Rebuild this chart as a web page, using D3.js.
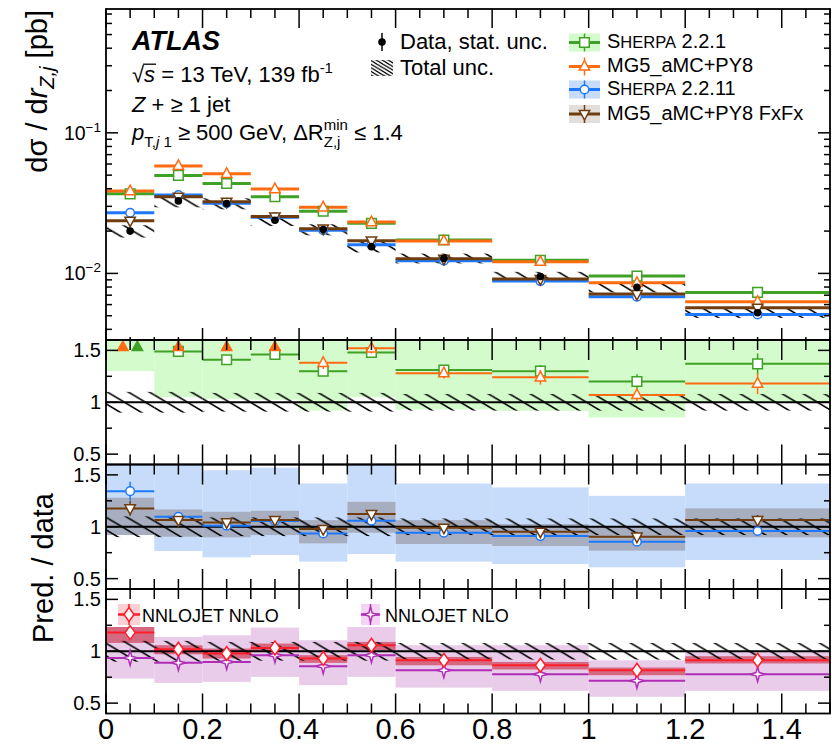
<!DOCTYPE html>
<html>
<head>
<meta charset="utf-8">
<script src="https://cdn.jsdelivr.net/npm/d3@7"></script>
<style>
body { margin: 0; background: #fff; }
svg { font-family: "Liberation Sans", Arial, sans-serif; }
</style>
</head>
<body>
<div id="chart"></div>
<script>
// bins in r_Zj
var edges = [0, 0.1, 0.2, 0.3, 0.4, 0.5, 0.6, 0.8, 1.0, 1.2, 1.5];
var xTickValues = [0, 0.2, 0.4, 0.6, 0.8, 1, 1.2, 1.4];
var xTickLabels = ["0", "0.2", "0.4", "0.6", "0.8", "1", "1.2", "1.4"];
var ratioTickValues = [0.5, 1, 1.5];
var ratioTickLabels = ["0.5", "1", "1.5"];

// top panel: d sigma / d r  [pb]
var data       = [0.0200, 0.0328, 0.0314, 0.0239, 0.0205, 0.0155, 0.0128, 0.0095, 0.00796, 0.00525];
var dataStat   = [0.04, 0.03, 0.03, 0.03, 0.03, 0.04, 0.03, 0.03, 0.03, 0.03];
var totUnc     = [0.10, 0.10, 0.09, 0.09, 0.09, 0.09, 0.08, 0.08, 0.08, 0.08];
var sherpa221  = [0.0368, 0.0498, 0.0436, 0.0351, 0.0277, 0.0227, 0.0173, 0.0124, 0.00957, 0.00733];
var mg5        = [0.0385, 0.0582, 0.0511, 0.0398, 0.0295, 0.0232, 0.0170, 0.0121, 0.00857, 0.00629];
var sherpa2211 = [0.0270, 0.0361, 0.0316, 0.0251, 0.0203, 0.0160, 0.0123, 0.00882, 0.00682, 0.00511];
var fxfx       = [0.0237, 0.0351, 0.0323, 0.0254, 0.0208, 0.0171, 0.0127, 0.00911, 0.00713, 0.00569];

// ratio panel 1
var r221    = [1.84, 1.49, 1.41, 1.46, 1.30, 1.48, 1.31, 1.30, 1.20, 1.37];
var r221Err = [0.05, 0.04, 0.04, 0.04, 0.05, 0.05, 0.05, 0.06, 0.07, 0.10];
var r221Lo  = [1.30, 1.05, 1.03, 1.025, 0.92, 1.05, 0.93, 0.917, 0.853, 1.0];
var r221Hi  = [2.40, 1.95, 1.80, 1.90, 1.70, 1.90, 1.70, 1.70, 1.65, 1.75];
var rMg5    = [1.92, 1.77, 1.63, 1.67, 1.38, 1.52, 1.28, 1.24, 1.07, 1.18];
var rMg5Err = [0.05, 0.04, 0.04, 0.04, 0.06, 0.05, 0.05, 0.07, 0.06, 0.10];

// ratio panel 2
var r2211    = [1.343, 1.096, 1.01, 1.055, 0.936, 1.058, 0.942, 0.91, 0.856, 0.959];
var r2211Err = [0.09, 0.03, 0.03, 0.03, 0.03, 0.04, 0.03, 0.03, 0.04, 0.05];
var r2211Lo  = [0.92, 0.766, 0.705, 0.728, 0.664, 0.737, 0.664, 0.641, 0.609, 0.68];
var r2211Hi  = [1.75, 1.65, 1.545, 1.57, 1.417, 1.65, 1.417, 1.379, 1.298, 1.417];
var rFx      = [1.177, 1.064, 1.042, 1.064, 0.978, 1.122, 0.99, 0.952, 0.904, 1.064];
var rFxErr   = [0.07, 0.03, 0.03, 0.03, 0.03, 0.04, 0.03, 0.03, 0.04, 0.05];
var rFxLo    = [0.92, 0.904, 0.898, 0.92, 0.84, 0.942, 0.834, 0.814, 0.77, 0.898];
var rFxHi    = [1.28, 1.167, 1.144, 1.154, 1.064, 1.24, 1.064, 1.026, 1.0, 1.177];

// ratio panel 3
var rNnlo   = [1.18, 1.019, 0.978, 1.032, 0.93, 1.058, 0.913, 0.865, 0.817, 0.913];
var rNnloLo = [1.08, 0.971, 0.93, 0.993, 0.888, 1.01, 0.865, 0.824, 0.769, 0.882];
var rNnloHi = [1.234, 1.058, 1.026, 1.074, 0.962, 1.09, 0.945, 0.897, 0.843, 0.952];
var rNlo    = [0.936, 0.888, 0.897, 0.962, 0.856, 0.962, 0.817, 0.779, 0.715, 0.779];
var rNloLo  = [0.737, 0.695, 0.705, 0.753, 0.673, 0.753, 0.65, 0.618, 0.561, 0.618];
var rNloHi  = [1.234, 1.138, 1.154, 1.228, 1.106, 1.234, 1.058, 1.058, 0.913, 0.993];
var rErr3   = [0.04, 0.02, 0.02, 0.02, 0.02, 0.03, 0.02, 0.02, 0.02, 0.03];

var green = "#3fa226", orange = "#ff6b12", blue = "#1e78ff", brown = "#6e3c0e";
var red = "#ff1e2a", magenta = "#b02eb6";
var greenBand = "#d3fbcb", blueBand = "#c6dcfa", fxBand = "rgba(95,70,60,0.30)";
var nloBand = "#e9cbea", nnloBand = "rgba(200,40,60,0.6)";

var svg = d3.select("#chart").append("svg")
    .attr("width", 832)
    .attr("height", 744);

var left = 106, right = 830;
var x = d3.scaleLinear().domain([0, 1.5]).range([left, right]);
var topY0 = 9, topY1 = 340;
var yTop = d3.scaleLog().domain([0.00336, 0.76]).range([topY1, topY0]);
var panels = [[340, 464.5], [464.5, 589], [589, 713.5]];
var yR = panels.map(function (p) {
    return d3.scaleLinear().domain([0.4, 1.6]).range([p[1], p[0]]);
});

var defs = svg.append("defs");
function addClip(id, y0, y1) {
    defs.append("clipPath").attr("id", id)
        .append("rect").attr("x", left).attr("y", y0)
        .attr("width", right - left).attr("height", y1 - y0);
}
addClip("clipTop", topY0, topY1);
panels.forEach(function (p, i) { addClip("clipR" + i, p[0], p[1]); });

// hatch for total uncertainty
function addHatch(id, w, h, sw) {
    var pat = defs.append("pattern").attr("id", id)
        .attr("patternUnits", "userSpaceOnUse")
        .attr("width", w).attr("height", h);
    pat.append("path")
        .attr("d", "M-2," + (-2 * h / w) + "L" + (w + 2) + "," + (h + 2 * h / w) +
            "M" + (w - 2) + "," + (-2 * h / w) + "L" + (w + 2) + "," + (2 * h / w) +
            "M-2," + (h - 2 * h / w) + "L2," + (h + 2 * h / w))
        .attr("stroke", "#000").attr("stroke-width", sw).attr("fill", "none");
}
addHatch("hatch", 21, 12.6, 1.5);
addHatch("hatchLeg", 6, 3.6, 1.3);

// marker shapes
var shapes = {
    square: "M-4.8,-4.8h9.6v9.6h-9.6z",
    triUp: "M0,-6L5.2,3.6L-5.2,3.6Z",
    triDown: "M0,6L5.2,-3.6L-5.2,-3.6Z",
    circle: d3.symbol().type(d3.symbolCircle).size(58)(),
    diamond: "M0,-7L5,0L0,7L-5,0Z",
    star: "M0,-7.5L1.6,-1.6L7.5,0L1.6,1.6L0,7.5L-1.6,1.6L-7.5,0L-1.6,-1.6Z"
};

function drawMarker(g, cx, cy, shape, color, filled) {
    g.append("path")
        .attr("d", shapes[shape])
        .attr("transform", "translate(" + cx + "," + cy + ")")
        .attr("fill", filled ? color : "#fff")
        .attr("stroke", color)
        .attr("stroke-width", 1.5);
}

function center(i) { return (edges[i] + edges[i + 1]) / 2; }

// ---------- top panel ----------
var gTop = svg.append("g").attr("clip-path", "url(#clipTop)");

for (var i = 0; i < data.length; i++) {
    gTop.append("rect")
        .attr("x", x(edges[i]))
        .attr("width", x(edges[i + 1]) - x(edges[i]))
        .attr("y", yTop(data[i] * (1 + totUnc[i])))
        .attr("height", yTop(data[i] * (1 - totUnc[i])) - yTop(data[i] * (1 + totUnc[i])))
        .attr("fill", "url(#hatch)");
}

var topModels = [
    { v: sherpa221, color: green, shape: "square" },
    { v: mg5, color: orange, shape: "triUp" },
    { v: sherpa2211, color: blue, shape: "circle" },
    { v: fxfx, color: brown, shape: "triDown" }
];
topModels.forEach(function (m) {
    for (var i = 0; i < m.v.length; i++) {
        gTop.append("line")
            .attr("x1", x(edges[i])).attr("x2", x(edges[i + 1]))
            .attr("y1", yTop(m.v[i])).attr("y2", yTop(m.v[i]))
            .attr("stroke", m.color).attr("stroke-width", 3);
    }
});
topModels.forEach(function (m) {
    for (var i = 0; i < m.v.length; i++) {
        drawMarker(gTop, x(center(i)), yTop(m.v[i]), m.shape, m.color, false);
    }
});
for (var i = 0; i < data.length; i++) {
    gTop.append("line")
        .attr("x1", x(center(i))).attr("x2", x(center(i)))
        .attr("y1", yTop(data[i] * (1 + dataStat[i]))).attr("y2", yTop(data[i] * (1 - dataStat[i])))
        .attr("stroke", "#000").attr("stroke-width", 1.5);
    gTop.append("circle")
        .attr("cx", x(center(i))).attr("cy", yTop(data[i]))
        .attr("r", 3.8).attr("fill", "#000");
}

// ---------- ratio panels ----------
function drawBand(g, y, lo, hi, fill) {
    for (var i = 0; i < lo.length; i++) {
        g.append("rect")
            .attr("x", x(edges[i]))
            .attr("width", x(edges[i + 1]) - x(edges[i]))
            .attr("y", y(hi[i]))
            .attr("height", y(lo[i]) - y(hi[i]))
            .attr("fill", fill);
    }
}
function drawHatchAndUnity(g, y) {
    drawBand(g, y, totUnc.map(function (u) { return 1 - u; }),
        totUnc.map(function (u) { return 1 + u; }), "url(#hatch)");
    g.append("line")
        .attr("x1", left).attr("x2", right)
        .attr("y1", y(1)).attr("y2", y(1))
        .attr("stroke", "#000").attr("stroke-width", 2);
}
function drawRatio(g, y, vals, errs, color, shape) {
    for (var i = 0; i < vals.length; i++) {
        if (vals[i] > 1.6) continue;
        g.append("line")
            .attr("x1", x(edges[i])).attr("x2", x(edges[i + 1]))
            .attr("y1", y(vals[i])).attr("y2", y(vals[i]))
            .attr("stroke", color).attr("stroke-width", 2);
        g.append("line")
            .attr("x1", x(center(i))).attr("x2", x(center(i)))
            .attr("y1", y(vals[i] + errs[i])).attr("y2", y(vals[i] - errs[i]))
            .attr("stroke", color).attr("stroke-width", 1.5);
        drawMarker(g, x(center(i)), y(vals[i]), shape, color, false);
    }
}
// off-scale values shown as filled triangles at the top edge
function drawOffScale(g, y, list) {
    for (var i = 0; i < edges.length - 1; i++) {
        var off = list.filter(function (m) { return m.v[i] > 1.6; });
        off.forEach(function (m, k) {
            var dx = off.length > 1 ? (k - (off.length - 1) / 2) * 14.5 : 0;
            drawMarker(g, x(center(i)) + dx, y(1.6) + 7, "triUp", m.color, true);
        });
    }
}

var gR1 = svg.append("g").attr("clip-path", "url(#clipR0)");
drawBand(gR1, yR[0], r221Lo, r221Hi, greenBand);
drawHatchAndUnity(gR1, yR[0]);
drawRatio(gR1, yR[0], r221, r221Err, green, "square");
drawRatio(gR1, yR[0], rMg5, rMg5Err, orange, "triUp");
drawOffScale(gR1, yR[0], [{ v: rMg5, color: orange }, { v: r221, color: green }]);

var gR2 = svg.append("g").attr("clip-path", "url(#clipR1)");
drawBand(gR2, yR[1], r2211Lo, r2211Hi, blueBand);
drawBand(gR2, yR[1], rFxLo, rFxHi, fxBand);
drawHatchAndUnity(gR2, yR[1]);
drawRatio(gR2, yR[1], r2211, r2211Err, blue, "circle");
drawRatio(gR2, yR[1], rFx, rFxErr, brown, "triDown");

var gR3 = svg.append("g").attr("clip-path", "url(#clipR2)");
drawBand(gR3, yR[2], rNloLo, rNloHi, nloBand);
drawBand(gR3, yR[2], rNnloLo, rNnloHi, nnloBand);
drawHatchAndUnity(gR3, yR[2]);
drawRatio(gR3, yR[2], rNlo, rErr3, magenta, "star");
drawRatio(gR3, yR[2], rNnlo, rErr3, red, "diamond");

// ---------- frames and ticks ----------
function drawFrame(y0, y1) {
    svg.append("rect")
        .attr("x", left).attr("y", y0)
        .attr("width", right - left).attr("height", y1 - y0)
        .attr("fill", "none").attr("stroke", "#000").attr("stroke-width", 1.8);
}
function isMajorX(v) { return Math.abs(v / 0.2 - Math.round(v / 0.2)) < 1e-6; }
function drawXTicks(y0, y1, topMaj, topMin, botMaj, botMin) {
    x.ticks(30).forEach(function (v) {
        var maj = isMajorX(v);
        var lt = maj ? topMaj : topMin, lb = maj ? botMaj : botMin;
        svg.append("line").attr("x1", x(v)).attr("x2", x(v))
            .attr("y1", y0).attr("y2", y0 + lt).attr("stroke", "#000").attr("stroke-width", 1.5);
        svg.append("line").attr("x1", x(v)).attr("x2", x(v))
            .attr("y1", y1).attr("y2", y1 - lb).attr("stroke", "#000").attr("stroke-width", 1.5);
    });
}
function drawYTick(yy, len) {
    svg.append("line").attr("x1", left).attr("x2", left + len)
        .attr("y1", yy).attr("y2", yy).attr("stroke", "#000").attr("stroke-width", 1.5);
    svg.append("line").attr("x1", right).attr("x2", right - len)
        .attr("y1", yy).attr("y2", yy).attr("stroke", "#000").attr("stroke-width", 1.5);
}

drawFrame(topY0, topY1);
drawXTicks(topY0, topY1, 19, 9, 12, 3);
yTop.ticks().forEach(function (v) {
    var lg = Math.log10(v);
    drawYTick(yTop(v), Math.abs(lg - Math.round(lg)) < 1e-6 ? 12 : 6);
});
panels.forEach(function (p, k) {
    drawFrame(p[0], p[1]);
    drawXTicks(p[0], p[1], 20, 10, 20, 10);
    d3.range(0.5, 1.51, 0.25).forEach(function (v) {
        drawYTick(yR[k](v), Math.abs(v * 2 - Math.round(v * 2)) < 1e-6 ? 12 : 6);
    });
});

// ---------- tick labels ----------
xTickValues.forEach(function (v, i) {
    svg.append("text")
        .attr("x", x(v)).attr("y", 739)
        .attr("text-anchor", "middle")
        .attr("font-size", 29)
        .text(xTickLabels[i]);
});
[0.1, 0.01].forEach(function (v) {
    var t = svg.append("text")
        .attr("x", 101).attr("y", yTop(v) + 7)
        .attr("text-anchor", "end")
        .attr("font-size", 19.5);
    t.append("tspan").text("10");
    t.append("tspan").attr("font-size", 13.5).attr("dy", -8).text("\u2212" + (-Math.log10(v)).toFixed(0));
});
panels.forEach(function (p, k) {
    ratioTickValues.forEach(function (v, i) {
        svg.append("text")
            .attr("x", 101).attr("y", yR[k](v) + 7)
            .attr("text-anchor", "end")
            .attr("font-size", 20)
            .text(ratioTickLabels[i]);
    });
});

// ---------- axis titles ----------
var yt = svg.append("text")
    .attr("transform", "translate(47,10) rotate(-90)")
    .attr("text-anchor", "end")
    .attr("font-size", 29);
yt.append("tspan").text("d\u03c3 / d");
yt.append("tspan").attr("font-style", "italic").text("r");
yt.append("tspan").attr("font-style", "italic").attr("font-size", 20).attr("dy", 7).text("Z,j");
yt.append("tspan").attr("dy", -7).text(" [pb]");

svg.append("text")
    .attr("transform", "translate(53,568) rotate(-90)")
    .attr("text-anchor", "middle")
    .attr("font-size", 29)
    .text("Pred. / data");

// ---------- ATLAS label ----------
svg.append("text")
    .attr("x", 132).attr("y", 50)
    .attr("font-size", 27).attr("font-weight", "bold").attr("font-style", "italic")
    .text("ATLAS");

var l2 = svg.append("text").attr("x", 132).attr("y", 81.7).attr("font-size", 22);
l2.append("tspan").text("\u221a");
l2.append("tspan").attr("font-style", "italic").text("s");
l2.append("tspan").text(" = 13 TeV, 139 fb");
l2.append("tspan").attr("font-size", 15).attr("dy", -9).text("-1");
var sStart = l2.node().getStartPositionOfChar(1).x;
var sEnd = l2.node().getEndPositionOfChar(1).x;
svg.append("line")
    .attr("x1", sStart - 1).attr("x2", sEnd + 1)
    .attr("y1", 81.7 - 17.5).attr("y2", 81.7 - 17.5)
    .attr("stroke", "#000").attr("stroke-width", 1.3);

var l3 = svg.append("text").attr("x", 132).attr("y", 111.7).attr("font-size", 22);
l3.append("tspan").attr("font-style", "italic").text("Z");
l3.append("tspan").text(" + \u2265 1 jet");

var l4 = svg.append("text").attr("x", 132).attr("y", 140).attr("font-size", 22);
l4.append("tspan").attr("font-style", "italic").text("p");
l4.append("tspan").attr("font-size", 15).attr("dy", 7).text("T,");
l4.append("tspan").attr("font-size", 15).attr("font-style", "italic").text("j");
l4.append("tspan").attr("font-size", 15).text(" 1");
l4.append("tspan").attr("dy", -7).text(" \u2265 500 GeV, \u0394R");
var supMin = l4.append("tspan").attr("font-size", 15).attr("dy", -10).text("min");
var wMin = supMin.node().getComputedTextLength();
var subZj = l4.append("tspan").attr("font-size", 15).attr("dy", 17).attr("dx", -wMin).text("Z,j");
var wZj = subZj.node().getComputedTextLength();
l4.append("tspan").attr("dy", -7).attr("dx", wMin - wZj).text(" \u2264 1.4");

// ---------- legends ----------
svg.append("line").attr("x1", 382).attr("x2", 382).attr("y1", 33).attr("y2", 51)
    .attr("stroke", "#000").attr("stroke-width", 1.5);
svg.append("circle").attr("cx", 382).attr("cy", 42).attr("r", 3.8).attr("fill", "#000");
svg.append("text").attr("x", 400).attr("y", 49.3).attr("font-size", 22).text("Data, stat. unc.");
svg.append("rect").attr("x", 371).attr("y", 60).attr("width", 22).attr("height", 16)
    .attr("fill", "url(#hatchLeg)");
svg.append("text").attr("x", 400).attr("y", 75).attr("font-size", 22).text("Total unc.");

var legendRows = [
    { name: ["S", "HERPA", " 2.2.1"], color: green, band: greenBand, shape: "square", y: 42.5 },
    { name: ["MG5_aMC+PY8"], color: orange, band: null, shape: "triUp", y: 66.5 },
    { name: ["S", "HERPA", " 2.2.11"], color: blue, band: blueBand, shape: "circle", y: 89.5 },
    { name: ["MG5_aMC+PY8 FxFx"], color: brown, band: "rgba(95,70,60,0.18)", shape: "triDown", y: 114 }
];
legendRows.forEach(function (r) {
    if (r.band) {
        svg.append("rect").attr("x", 569).attr("y", r.y - 9).attr("width", 31).attr("height", 18)
            .attr("fill", r.band);
    }
    svg.append("line").attr("x1", 569).attr("x2", 600).attr("y1", r.y).attr("y2", r.y)
        .attr("stroke", r.color).attr("stroke-width", 3);
    svg.append("line").attr("x1", 584.5).attr("x2", 584.5).attr("y1", r.y - 9).attr("y2", r.y + 9)
        .attr("stroke", r.color).attr("stroke-width", 1.5);
    drawMarker(svg, 584.5, r.y, r.shape, r.color, false);
    var t = svg.append("text").attr("x", 607).attr("y", r.y + 5.5).attr("font-size", 20);
    if (r.name.length === 3) {
        t.append("tspan").text(r.name[0]);
        t.append("tspan").attr("font-size", 16.5).text(r.name[1]);
        t.append("tspan").text(r.name[2]);
    } else {
        t.text(r.name[0]);
    }
});

var legend3 = [
    { name: "NNLOJET NNLO", color: red, band: "#fbd0d4", shape: "diamond", x0: 118, x1: 140, tx: 142 },
    { name: "NNLOJET NLO", color: magenta, band: "#f3d4f3", shape: "star", x0: 361, x1: 380, tx: 385 }
];
legend3.forEach(function (r) {
    var cy = 614.5, cx = (r.x0 + r.x1) / 2;
    svg.append("rect").attr("x", r.x0).attr("y", cy - 10.5).attr("width", r.x1 - r.x0).attr("height", 21)
        .attr("fill", r.band);
    svg.append("line").attr("x1", r.x0).attr("x2", r.x1).attr("y1", cy).attr("y2", cy)
        .attr("stroke", r.color).attr("stroke-width", 2.5);
    svg.append("line").attr("x1", cx).attr("x2", cx).attr("y1", cy - 10.5).attr("y2", cy + 10.5)
        .attr("stroke", r.color).attr("stroke-width", 1.5);
    drawMarker(svg, cx, cy, r.shape, r.color, false);
    svg.append("text").attr("x", r.tx).attr("y", 621.5).attr("font-size", 18).text(r.name);
});
</script>
</body>
</html>
